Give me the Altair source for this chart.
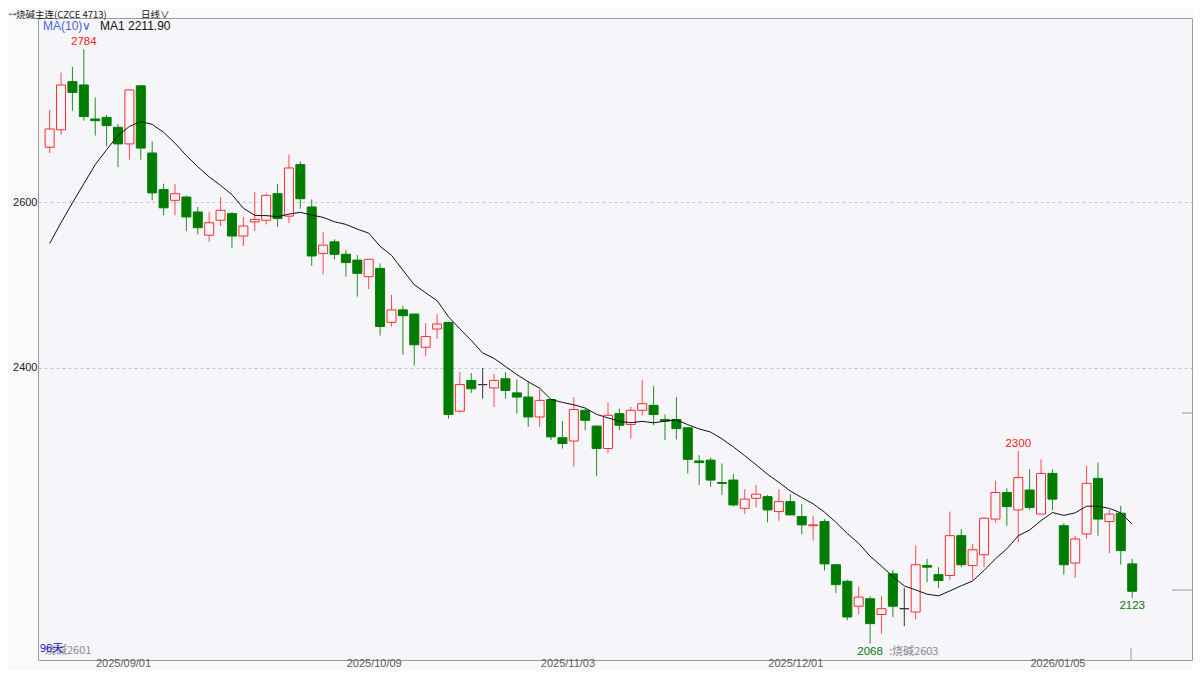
import altair as alt
import pandas as pd

# ---------------- data ----------------
opens = [2666, 2687, 2745, 2741, 2700, 2702, 2690, 2670, 2740, 2659,
         2615, 2602, 2606, 2588, 2560, 2578, 2586, 2559, 2576, 2578,
         2610, 2583, 2645, 2594, 2538, 2552, 2537, 2530, 2510, 2520,
         2455, 2470, 2465, 2425, 2447, 2455, 2348, 2385, 2380, 2376,
         2387, 2370, 2365, 2341, 2362, 2316, 2312, 2349, 2330, 2303,
         2345, 2332, 2349, 2355, 2338, 2338, 2328, 2288, 2289, 2262,
         2265, 2231, 2243, 2245, 2227, 2239, 2221, 2210, 2215, 2163,
         2143, 2113, 2122, 2103, 2152, 2110, 2106, 2162, 2151, 2150,
         2198, 2162, 2175, 2218, 2250, 2229, 2253, 2224, 2273, 2210,
         2165, 2200, 2267, 2215, 2225, 2164]
highs = [2711, 2756, 2763, 2784, 2726, 2705, 2694, 2736, 2740, 2673,
         2622, 2622, 2608, 2594, 2588, 2606, 2588, 2582, 2612, 2610,
         2622, 2657, 2649, 2603, 2564, 2555, 2542, 2536, 2531, 2526,
         2488, 2475, 2465, 2454, 2465, 2455, 2395, 2394, 2400, 2393,
         2395, 2386, 2384, 2374, 2362, 2336, 2365, 2351, 2331, 2359,
         2351, 2353, 2386, 2378, 2344, 2365, 2328, 2295, 2292, 2285,
         2272, 2254, 2259, 2247, 2254, 2248, 2236, 2222, 2218, 2163,
         2145, 2137, 2125, 2125, 2157, 2135, 2186, 2170, 2160, 2227,
         2206, 2188, 2220, 2264, 2255, 2300, 2278, 2290, 2278, 2213,
         2198, 2282, 2286, 2229, 2234, 2170]
lows = [2659, 2681, 2710, 2698, 2680, 2667, 2642, 2651, 2651, 2602,
        2584, 2584, 2565, 2561, 2552, 2571, 2545, 2547, 2565, 2573,
        2570, 2575, 2592, 2523, 2513, 2531, 2510, 2486, 2495, 2439,
        2450, 2416, 2403, 2414, 2435, 2339, 2346, 2370, 2363, 2353,
        2363, 2345, 2329, 2329, 2313, 2303, 2281, 2325, 2270, 2297,
        2325, 2315, 2343, 2331, 2313, 2314, 2273, 2259, 2257, 2247,
        2233, 2224, 2232, 2214, 2216, 2223, 2200, 2192, 2156, 2129,
        2096, 2103, 2068, 2080, 2100, 2089, 2097, 2142, 2135, 2145,
        2160, 2145, 2160, 2214, 2210, 2190, 2229, 2224, 2229, 2151,
        2147, 2194, 2198, 2177, 2163, 2123]
closes = [2688, 2741, 2732, 2703, 2698, 2692, 2670, 2735, 2665, 2611,
          2593, 2610, 2582, 2569, 2575, 2590, 2559, 2571, 2579, 2608,
          2580, 2641, 2604, 2535, 2548, 2537, 2527, 2514, 2531, 2450,
          2470, 2463, 2428, 2438, 2453, 2344, 2380, 2375, 2380, 2385,
          2373, 2365, 2341, 2361, 2317, 2309, 2350, 2337, 2303, 2343,
          2331, 2349, 2357, 2344, 2336, 2327, 2290, 2286, 2265, 2261,
          2235, 2242, 2248, 2229, 2239, 2223, 2211, 2211, 2164, 2139,
          2100, 2124, 2092, 2110, 2113, 2110, 2163, 2160, 2144, 2198,
          2163, 2181, 2219, 2250, 2233, 2268, 2232, 2273, 2242, 2163,
          2194, 2261, 2218, 2224, 2180, 2131]
# MA(10) values of the first candles (they depend on days before the window)
ma_head = [2550, 2575, 2599, 2622, 2645, 2663, 2680, 2691, 2697]

tick_idx = [6, 28, 45, 65, 88]
tick_labels = ["2025/09/01", "2025/10/09", "2025/11/03", "2025/12/01", "2026/01/05"]
y_ticks = [2400, 2600]
high_marks = [3, 85]
low_marks = [95, 72]

# ---------------- style ----------------
BG = "#fafafa"
VIEW_BG = "#f5f5fa"
RED = "#ff2b2b"
RED_WICK = "#ff4a4a"
GREEN = "#007d00"
GREEN_WICK = "#209020"
FLAT = "#333333"
NUM_FONT = "Liberation Sans"
CJK_FONT = "Noto Sans CJK SC"

W, H = 1154, 642

n = len(closes)
df = pd.DataFrame({"i": list(range(n)), "open": opens, "high": highs,
                   "low": lows, "close": closes})
df["dir"] = ["up" if c > o else ("down" if c < o else "flat")
             for o, c in zip(opens, closes)]
df["body_lo"] = df[["open", "close"]].min(axis=1)
df["body_hi"] = df[["open", "close"]].max(axis=1)
ma = pd.Series(closes, dtype=float).rolling(10).mean()
ma.iloc[:len(ma_head)] = ma_head
df["ma"] = ma

label_expr = " : ".join(
    f"datum.value == {v} ? '{t}'" for v, t in zip(tick_idx, tick_labels)
) + " : ''"

x_scale = alt.Scale(domain=[-0.583, 99.81], nice=False, zero=False)
y_scale = alt.Scale(domain=[2048.19, 2821.69], nice=False, zero=False)
x_axis = alt.Axis(values=tick_idx, labelExpr=label_expr, title=None,
                  ticks=False, domain=False, grid=False, labelOffset=5,
                  labelPadding=-3, labelColor="#606060", labelFontSize=11,
                  labelFont=NUM_FONT)
y_axis = alt.Axis(values=y_ticks, title=None, ticks=False, domain=False,
                  grid=True, gridDash=[3, 3], gridColor="#c6c6c6",
                  labelPadding=1, labelColor="#222222", labelFontSize=11,
                  labelFont=NUM_FONT, format="d")

dom = ["up", "down", "flat"]
X = alt.X("i:Q", scale=x_scale, axis=x_axis)

base = alt.Chart(df)

wicks = base.mark_rule(strokeWidth=1).encode(
    x=X,
    y=alt.Y("low:Q", scale=y_scale, axis=y_axis),
    y2="high:Q",
    color=alt.Color("dir:N", scale=alt.Scale(domain=dom, range=[RED_WICK, GREEN_WICK, FLAT]), legend=None),
)

bodies = base.mark_bar(size=9, strokeWidth=1).encode(
    x=X,
    y=alt.Y("body_lo:Q", scale=y_scale, axis=y_axis),
    y2="body_hi:Q",
    fill=alt.Fill("dir:N", scale=alt.Scale(domain=dom, range=[VIEW_BG, GREEN, FLAT]), legend=None),
    stroke=alt.Stroke("dir:N", scale=alt.Scale(domain=dom, range=[RED, GREEN, FLAT]), legend=None),
)

ma_line = base.mark_line(color="#111111", strokeWidth=1).encode(
    x=X,
    y=alt.Y("ma:Q", scale=y_scale, axis=y_axis),
)

hi_df = pd.DataFrame({"i": high_marks, "v": [highs[k] for k in high_marks],
                      "t": [str(highs[k]) for k in high_marks]})
lo_df = pd.DataFrame({"i": low_marks, "v": [lows[k] for k in low_marks],
                      "t": [str(lows[k]) for k in low_marks]})

hi_text = alt.Chart(hi_df).mark_text(color="#ee2222", fontSize=11.5, font=NUM_FONT,
                                     baseline="middle", dy=-7).encode(
    x=X, y=alt.Y("v:Q", scale=y_scale, axis=y_axis), text="t:N")
lo_text = alt.Chart(lo_df).mark_text(color="#0a7a0a", fontSize=11.5, font=NUM_FONT,
                                     baseline="middle", dy=8).encode(
    x=X, y=alt.Y("v:Q", scale=y_scale, axis=y_axis), text="t:N")


def label(txt, x, y, color="#222222", size=11, font=CJK_FONT, align="left"):
    return alt.Chart(pd.DataFrame({"t": [txt]})).mark_text(
        align=align, baseline="middle", color=color, fontSize=size, font=font
    ).encode(x=alt.value(x), y=alt.value(y), text="t:N")


def deco_rule(x1, x2, y1, y2, color="#9a9a9a", width=1):
    return alt.Chart(pd.DataFrame({"a": [0]})).mark_rule(color=color, strokeWidth=width).encode(
        x=alt.value(x1), x2=alt.value(x2), y=alt.value(y1), y2=alt.value(y2))


decor = [
    label("⊶", -29.5, -3, color="#555555", size=8, font="DejaVu Sans"),
    label("烧碱主连(CZCE 4713)", -22, -3, size=9.5),
    label("日线∨", 103, -3, size=9.5),
    label("MA(10)∨", 5, 8, color="#4a63d8", size=12, font=NUM_FONT),
    label("MA1 2211.90", 62, 8, color="#111111", size=12, font=NUM_FONT),
    label("烧碱2601", 7, 633, color="#8a8a8a", size=11),
    label("96天", 2, 631, color="#2020c8", size=11),
    label(":烧碱2603", 851, 634, color="#8a8a8a", size=11),
    deco_rule(1144, 1154, 395, 395),
    deco_rule(1134, 1154, 572, 572),
    deco_rule(1093, 1093, 630, 642),
]

chart = alt.layer(wicks, bodies, ma_line, hi_text, lo_text, *decor).properties(
    width=W, height=H,
    autosize=alt.AutoSizeParams(type="none"),
    padding={"left": 30, "top": 10, "right": 1, "bottom": 10},
    background=BG,
).configure_view(
    fill=VIEW_BG, stroke="#9c9c9c", strokeWidth=1
)

chart.save("out.html", embed_options={"renderer": "svg", "actions": False})
